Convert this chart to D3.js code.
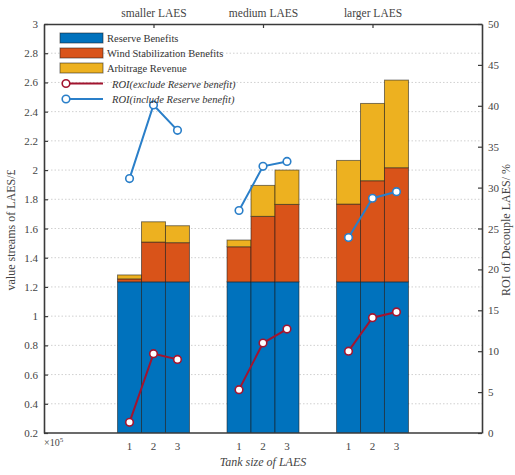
<!DOCTYPE html>
<html>
<head>
<meta charset="utf-8">
<script src="https://cdn.jsdelivr.net/npm/d3@7"></script>
<style>
  body { margin: 0; background: #fff; }
  text { font-family: "Liberation Serif", "Times New Roman", serif; }
</style>
</head>
<body>
<svg id="chart" width="515" height="475"></svg>
<script>
// groups and tank sizes
const groups = ['smaller LAES', 'medium LAES', 'larger LAES'];
const sizes = [1, 2, 3];

// stacked values (left axis), per group, per tank size
const reserve = [[1.235, 1.235, 1.235], [1.235, 1.235, 1.235], [1.235, 1.235, 1.235]];
const wind = [[0.02, 0.272, 0.268], [0.24, 0.448, 0.53], [0.532, 0.692, 0.781]];
const arbitrage = [[0.027, 0.139, 0.116], [0.046, 0.212, 0.235], [0.299, 0.529, 0.6]];

// ROI lines (right axis, %)
const roiExclude = [[1.3, 9.7, 9.0], [5.3, 11.0, 12.7], [10.0, 14.1, 14.8]];
const roiInclude = [[31.1, 40.1, 37.0], [27.2, 32.6, 33.2], [23.9, 28.7, 29.5]];

const leftTicks = d3.range(0.2, 3.0001, 0.2);
const rightTicks = d3.range(0, 50.001, 5);

const svg = d3.select('#chart');
const m = { left: 44, right: 482, top: 24, bottom: 433 };

const x = d3.scaleLinear().domain([0, 4]).range([m.left, m.right]);
const y = d3.scaleLinear().domain([0.2, 3]).range([m.bottom, m.top]);
const y2 = d3.scaleLinear().domain([0, 50]).range([m.bottom, m.top]);
const barW = 0.219;

const colors = { reserve: '#0072BD', wind: '#D95319', arb: '#EDB120' };
const lineRed = '#A2142F';
const lineBlue = '#2a7fc9';

svg.append('defs').append('clipPath').attr('id', 'clip')
  .append('rect').attr('x', m.left).attr('y', m.top)
  .attr('width', m.right - m.left).attr('height', m.bottom - m.top);

// grid
svg.append('g').selectAll('line')
  .data(leftTicks.filter(d => d > 0.3 && d < 2.9))
  .join('line')
  .attr('x1', m.left).attr('x2', m.right)
  .attr('y1', d => y(d)).attr('y2', d => y(d))
  .attr('stroke', '#d0d0d0').attr('stroke-width', 1)
  .attr('stroke-dasharray', '1.5,2');

// stacked bars
const bars = [];
groups.forEach((g, gi) => {
  sizes.forEach((s, si) => {
    const r = reserve[gi][si], w = wind[gi][si], a = arbitrage[gi][si];
    const cx = gi + 1 + (s - 2) * barW;
    bars.push({ cx, y0: 0, y1: r, c: colors.reserve });
    bars.push({ cx, y0: r, y1: r + w, c: colors.wind });
    bars.push({ cx, y0: r + w, y1: r + w + a, c: colors.arb });
  });
});
svg.append('g').attr('clip-path', 'url(#clip)')
  .selectAll('rect').data(bars).join('rect')
  .attr('x', d => x(d.cx - barW / 2))
  .attr('width', x(barW) - x(0))
  .attr('y', d => y(d.y1))
  .attr('height', d => y(Math.max(0.2, d.y0)) - y(d.y1) + (d.y0 < 0.2 ? 2 : 0))
  .attr('fill', d => d.c)
  .attr('stroke', '#1a1a1a').attr('stroke-opacity', 0.55).attr('stroke-width', 1);

// ROI lines
function drawLine(data, color) {
  const line = d3.line().x(d => x(d[0])).y(d => y2(d[1]));
  groups.forEach((g, gi) => {
    const pts = sizes.map((s, si) => [gi + 1 + (s - 2) * barW, data[gi][si]]);
    svg.append('path').datum(pts)
      .attr('d', line).attr('fill', 'none')
      .attr('stroke', color).attr('stroke-width', 2);
    svg.append('g').selectAll('circle').data(pts).join('circle')
      .attr('cx', d => x(d[0])).attr('cy', d => y2(d[1])).attr('r', 3.8)
      .attr('fill', '#fff').attr('stroke', color).attr('stroke-width', 1.6);
  });
}
drawLine(roiExclude, lineRed);
drawLine(roiInclude, lineBlue);

// axes
const axisColor = '#3a3a3a';
const leftAxis = d3.axisLeft(y).tickValues(leftTicks).tickSizeInner(-4).tickSizeOuter(0)
  .tickPadding(6).tickFormat(d3.format('~g'));
const gl = svg.append('g').attr('transform', `translate(${m.left},0)`).call(leftAxis);

const rightAxis = d3.axisRight(y2).tickValues(rightTicks).tickSizeInner(-4).tickSizeOuter(0)
  .tickPadding(6);
const gr = svg.append('g').attr('transform', `translate(${m.right},0)`).call(rightAxis);

const topAxis = d3.axisTop(x).tickValues([1, 2, 3]).tickSizeInner(-4).tickSizeOuter(0)
  .tickPadding(7).tickFormat(d => groups[d - 1]);
const gt = svg.append('g').attr('transform', `translate(0,${m.top})`).call(topAxis);

const botTicks = [];
groups.forEach((g, gi) => sizes.forEach(s => botTicks.push({ v: gi + 1 + (s - 2) * barW, s })));
const gb = svg.append('g').attr('transform', `translate(0,${m.bottom})`);
gb.append('line').attr('x1', m.left).attr('x2', m.right).attr('y1', 0).attr('y2', 0);
gb.selectAll('text').data(botTicks).join('text')
  .attr('x', d => x(d.v)).attr('y', 17).attr('text-anchor', 'middle')
  .text(d => d.s);

[gl, gr, gt, gb].forEach(g => {
  g.selectAll('path.domain, line').attr('stroke', axisColor).attr('stroke-width', 1.6);
  g.selectAll('.tick line').attr('stroke-width', 1.2);
  g.selectAll('text').attr('fill', '#444').attr('font-size', 11)
    .attr('font-family', '"Liberation Serif", serif');
});
gt.selectAll('text').attr('font-size', 11.5);

// x10^5 note
const ex = svg.append('text').attr('x', 44).attr('y', 446)
  .attr('font-size', 10).attr('fill', '#444');
ex.append('tspan').text('×10');
ex.append('tspan').attr('dy', -4).attr('font-size', 7).text('5');

// axis titles
svg.append('text').attr('x', 263).attr('y', 466).attr('text-anchor', 'middle')
  .attr('font-size', 12).attr('font-style', 'italic').attr('fill', '#444')
  .text('Tank size of LAES');
svg.append('text').attr('transform', 'translate(15,230) rotate(-90)')
  .attr('text-anchor', 'middle').attr('font-size', 12).attr('fill', '#444')
  .text('value streams of LAES/£');
svg.append('text').attr('transform', 'translate(510,230) rotate(-90)')
  .attr('text-anchor', 'middle').attr('font-size', 12).attr('fill', '#444')
  .text('ROI of Decouple LAES/ %');

// legend
const legend = [
  { t: 'Reserve Benefits', c: colors.reserve, type: 'patch' },
  { t: 'Wind Stabilization Benefits', c: colors.wind, type: 'patch' },
  { t: 'Arbitrage Revenue', c: colors.arb, type: 'patch' },
  { t: 'ROI(exclude Reserve benefit)', c: lineRed, type: 'line' },
  { t: 'ROI(include Reserve benefit)', c: lineBlue, type: 'line' }
];
const lg = svg.append('g');
const rowY = [38, 53, 68, 83.5, 99];
legend.forEach((d, i) => {
  const g = lg.append('g').attr('transform', `translate(60,${rowY[i]})`);
  if (d.type === 'patch') {
    g.append('rect').attr('x', 0).attr('y', -5).attr('width', 43).attr('height', 10)
      .attr('fill', d.c).attr('stroke', '#1a1a1a').attr('stroke-opacity', 0.55);
    g.append('text').attr('x', 47).attr('y', 4).attr('font-size', 10.5).attr('fill', '#333').text(d.t);
  } else {
    g.append('line').attr('x1', 6).attr('x2', 43).attr('y1', 0).attr('y2', 0)
      .attr('stroke', d.c).attr('stroke-width', 2);
    g.append('circle').attr('cx', 6).attr('cy', 0).attr('r', 3.8)
      .attr('fill', '#fff').attr('stroke', d.c).attr('stroke-width', 1.6);
    g.append('text').attr('x', 52).attr('y', 4).attr('font-size', 10.5)
      .attr('font-style', 'italic').attr('fill', '#333').text(d.t);
  }
});
</script>
</body>
</html>
